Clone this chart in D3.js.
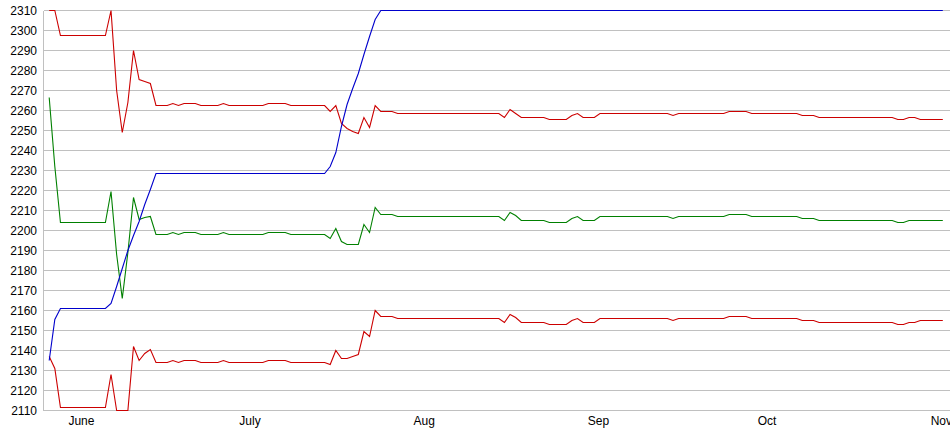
<!DOCTYPE html>
<html>
<head>
<meta charset="utf-8">
<script src="https://cdn.jsdelivr.net/npm/d3@7"></script>
<style>
  html, body { margin: 0; padding: 0; background: #fff; overflow: hidden; }
  svg { display: block; }
  svg text { font-family: Arial, "Liberation Sans", sans-serif; font-size: 12px; fill: #000; }
</style>
</head>
<body>
<svg id="chart" width="950" height="435"></svg>
<script>
// ---- data: points are daily, index 0 = first day shown ----
const firstDay = "2009-05-26";
const monthLabels = ["June", "July", "Aug", "Sep", "Oct", "Nov"];
const monthStarts = ["2009-06-01", "2009-07-01", "2009-08-01", "2009-09-01", "2009-10-01", "2009-11-01"];
const yTicks = [2110, 2120, 2130, 2140, 2150, 2160, 2170, 2180, 2190, 2200, 2210,
                2220, 2230, 2240, 2250, 2260, 2270, 2280, 2290, 2300, 2310];

const upperBand = [[0,2310],[1,2310],[2,2297.5],[10,2297.5],[11,2310],[12,2270],[13,2249],[14,2264],[15,2290],[16,2275.5],[17,2274.5],[18,2273.5],[19,2262.5],[21,2262.5],[22,2263.5],[23,2262.5],[24,2263.5],[26,2263.5],[27,2262.5],[30,2262.5],[31,2263.5],[32,2262.5],[38,2262.5],[39,2263.5],[42,2263.5],[43,2262.5],[49,2262.5],[50,2259.5],[51,2262.5],[52,2253.5],[53,2251],[54,2249.5],[55,2248.5],[56,2256.5],[57,2251.5],[58,2262.5],[59,2259.5],[61,2259.5],[62,2258.5],[80,2258.5],[81,2256.5],[82,2260.5],[83,2258.5],[84,2256.5],[88,2256.5],[89,2255.5],[92,2255.5],[93,2257.5],[94,2258.5],[95,2256.5],[97,2256.5],[98,2258.5],[110,2258.5],[111,2257.5],[112,2258.5],[120,2258.5],[121,2259.5],[124,2259.5],[125,2258.5],[133,2258.5],[134,2257.5],[136,2257.5],[137,2256.5],[150,2256.5],[151,2255.5],[152,2255.5],[153,2256.5],[154,2256.5],[155,2255.5],[159,2255.5]];

const middleLine = [[0,2266.5],[1,2232],[2,2204],[10,2204],[11,2219.5],[12,2188],[13,2166],[14,2189],[15,2216.5],[16,2205.5],[17,2206.5],[18,2207],[19,2198],[21,2198],[22,2199],[23,2198],[24,2199],[26,2199],[27,2198],[30,2198],[31,2199],[32,2198],[38,2198],[39,2199],[42,2199],[43,2198],[49,2198],[50,2196],[51,2201],[52,2194.5],[53,2193],[55,2193],[56,2203],[57,2199],[58,2211.5],[59,2208],[61,2208],[62,2207],[80,2207],[81,2205],[82,2209],[83,2207.5],[84,2205],[88,2205],[89,2204],[92,2204],[93,2206],[94,2207],[95,2205],[97,2205],[98,2207],[110,2207],[111,2206],[112,2207],[120,2207],[121,2208],[124,2208],[125,2207],[133,2207],[134,2206],[136,2206],[137,2205],[150,2205],[151,2204],[152,2204],[153,2205],[159,2205]];

const lowerBand = [[0,2137],[1,2131],[2,2111.5],[10,2111.5],[11,2128],[12,2110],[14,2110],[15,2142],[16,2135],[17,2138.5],[18,2140.5],[19,2134],[21,2134],[22,2135],[23,2134],[24,2135],[26,2135],[27,2134],[30,2134],[31,2135],[32,2134],[38,2134],[39,2135],[42,2135],[43,2134],[49,2134],[50,2133],[51,2140],[52,2136],[53,2136],[54,2137],[55,2138],[56,2149.5],[57,2147],[58,2160],[59,2157],[61,2157],[62,2156],[80,2156],[81,2154],[82,2158],[83,2156.5],[84,2154],[88,2154],[89,2153],[92,2153],[93,2155],[94,2156],[95,2154],[97,2154],[98,2156],[110,2156],[111,2155],[112,2156],[120,2156],[121,2157],[124,2157],[125,2156],[133,2156],[134,2155],[136,2155],[137,2154],[150,2154],[151,2153],[152,2153],[153,2154],[154,2154],[155,2155],[159,2155]];

const blueLine = [[0,2135],[1,2155.5],[2,2161],[10,2161],[11,2163.5],[12,2172],[13,2181],[14,2190],[15,2197.5],[16,2204.5],[17,2213],[18,2220.5],[19,2228.5],[49,2228.5],[50,2232],[51,2239],[52,2252],[53,2263],[54,2271],[55,2278.5],[56,2288],[57,2297],[58,2305.5],[59,2310],[159,2310]];

const seriesList = [
  { name: "upper", data: upperBand, color: "#cc0000" },
  { name: "lower", data: lowerBand, color: "#cc0000" },
  { name: "middle", data: middleLine, color: "#008000" },
  { name: "blue", data: blueLine, color: "#0000cc" }
];

// ---- layout ----
const parse = d3.utcParse("%Y-%m-%d");
const day0 = parse(firstDay);
const dayOf = i => d3.utcDay.offset(day0, i);

const svg = d3.select("#chart");
const plotLeft = 43.5, plotRight = 950;
const x = d3.scaleUtc().domain([day0, dayOf(159)]).range([49.2, 942.8]);
const y = d3.scaleLinear().domain([2110, 2310]).range([410.5, 10.5]);

// gridlines
svg.append("g").selectAll("line").data(yTicks).join("line")
  .attr("x1", plotLeft).attr("x2", plotRight)
  .attr("y1", d => y(d)).attr("y2", d => y(d))
  .attr("stroke", "#c0c0c0").attr("stroke-width", 1).attr("shape-rendering", "crispEdges");

// left axis line
svg.append("line")
  .attr("x1", plotLeft).attr("x2", plotLeft)
  .attr("y1", y(2310)).attr("y2", y(2110) + 0.5)
  .attr("stroke", "#c0c0c0").attr("shape-rendering", "crispEdges");

// y axis labels
const yAxis = d3.axisLeft(y).tickValues(yTicks).tickSize(0).tickPadding(6.5).tickFormat(d3.format("d"));
const gy = svg.append("g").attr("transform", `translate(${plotLeft},0)`).call(yAxis);
gy.select(".domain").remove();
gy.attr("font-family", null).attr("font-size", null);
gy.selectAll("text").attr("fill", "#000");

// x axis labels
const xAxis = d3.axisBottom(x).tickValues(monthStarts.map(parse)).tickSize(0).tickPadding(5.5)
  .tickFormat((d, i) => monthLabels[i]);
const gx = svg.append("g").attr("transform", `translate(0,${y(2110)})`).call(xAxis);
gx.select(".domain").remove();
gx.attr("font-family", null).attr("font-size", null);
gx.selectAll("text").attr("fill", "#000").attr("dx", "-2");

// lines
const line = d3.line().x(d => x(dayOf(d[0]))).y(d => y(d[1]));
svg.append("g").selectAll("path").data(seriesList).join("path")
  .attr("d", s => line(s.data))
  .attr("fill", "none")
  .attr("stroke", s => s.color)
  .attr("stroke-width", 1.1);
</script>
</body>
</html>
